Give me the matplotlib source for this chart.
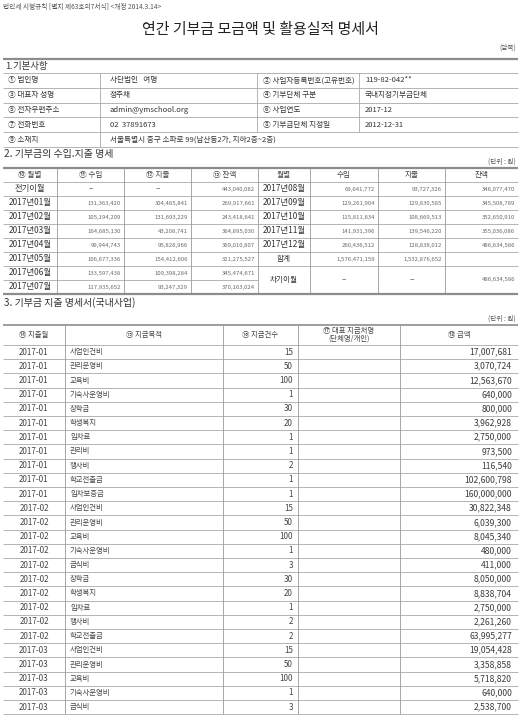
import matplotlib
matplotlib.use("Agg")
import matplotlib.pyplot as plt

plt.rcParams["font.family"] = ["Noto Sans CJK KR", "DejaVu Sans"]

# ---- data -------------------------------------------------------------
form_note = "법인세 시행규칙 [별지 제63호의7서식] <개정 2014.3.14>"
title = "연간 기부금 모금액 및 활용실적 명세서"

basic_labels_l = ["① 법인명", "③ 대표자 성명", "⑤ 전자우편주소", "⑦ 전화번호", "⑨ 소재지"]
basic_values_l = ["사단법인   여명", "정주채", "admin@ymschool.org", "02  37891673",
                  "서울특별시 중구 소파로 99(남산동2가, 지하2층~2층)"]
basic_labels_r = ["② 사업자등록번호(고유번호)", "④ 기부단체 구분", "⑥ 사업연도", "⑧ 기부금단체 지정일"]
basic_values_r = ["119-82-042**", "국내지정기부금단체", "2017-12", "2012-12-31"]

flow_header_l = ["⑩ 월별", "⑪ 수입", "⑫ 지출", "⑬ 잔액"]
flow_header_r = ["월별", "수입", "지출", "잔액"]

months_l = ["전기이월", "2017년01월", "2017년02월", "2017년03월", "2017년04월",
            "2017년05월", "2017년06월", "2017년07월"]
income_l = [None, 131363420, 105194209, 164685130, 99944743, 106677336, 133597438, 117935652]
expense_l = [None, 304485841, 131693229, 43208741, 95828966, 154412606, 109398284, 93247329]
balance_l = [443040082, 269917661, 243418641, 364895030, 369010807, 321275527, 345474671, 370163024]

months_r = ["2017년08월", "2017년09월", "2017년10월", "2017년11월", "2017년12월", "합계", "차기이월"]
income_r = [69641772, 129261904, 115811634, 141931396, 260436512, 1576471159, None]
expense_r = [93727326, 129830585, 108669513, 139546220, 128838012, 1532876652, None]
balance_r = [346077470, 345508789, 352650910, 355036086, 486634586, None, 486634586]

spend_header = ["⑭ 지출월", "⑮ 지급목적", "⑯ 지급건수", "⑰ 대표 지급처명\n(단체명/개인)", "⑱ 금액"]
spend_month = ["2017-01"] * 11 + ["2017-02"] * 10 + ["2017-03"] * 5
spend_purpose = ["사업인건비", "관리운영비", "교육비", "기숙사운영비", "장학금", "학생복지",
                 "임차료", "관리비", "행사비", "학교전출금", "임차보증금",
                 "사업인건비", "관리운영비", "교육비", "기숙사운영비", "급식비", "장학금",
                 "학생복지", "임차료", "행사비", "학교전출금",
                 "사업인건비", "관리운영비", "교육비", "기숙사운영비", "급식비"]
spend_count = [15, 50, 100, 1, 30, 20, 1, 1, 2, 1, 1,
               15, 50, 100, 1, 3, 30, 20, 1, 2, 2,
               15, 50, 100, 1, 3]
spend_amount = [17007681, 3070724, 12563670, 640000, 800000, 3962928,
                2750000, 973500, 116540, 102600798, 160000000,
                30822348, 6039300, 8045340, 480000, 411000, 8050000,
                8838704, 2750000, 2261260, 63995277,
                19054428, 3358858, 5718820, 640000, 2538700]

# ---- drawing ----------------------------------------------------------
W, H = 521, 717
fig = plt.figure(figsize=(W / 100, H / 100), dpi=100)
ax = fig.add_axes([0, 0, 1, 1])
ax.set_xlim(0, W)
ax.set_ylim(H, 0)
ax.axis("off")

LINE = "#a8a8a8"
THICK = "#8c8c8c"
DARK = "#333333"
GRAY = "#6a6a6a"
L, R = 3, 518


def hline(y, x0=L, x1=R, lw=0.6, color=LINE):
    ax.plot([x0, x1], [y, y], color=color, lw=lw, solid_capstyle="butt")


def vline(x, y0, y1, lw=0.6, color=LINE):
    ax.plot([x, x], [y0, y1], color=color, lw=lw, solid_capstyle="butt")


def txt(x, y, s, size=5.5, ha="left", color=DARK, **kw):
    ax.text(x, y, s, fontsize=size, ha=ha, va="center", color=color, **kw)


def fmt(v):
    return "–" if v is None else f"{v:,}"


# header
txt(3, 7, form_note, size=4.8, color="#555555")
txt(W / 2, 30, title, size=10.8, ha="center", color="#222222")
txt(516, 48, "(앞쪽)", size=4.8, ha="right", color="#555555")

# section 1
s1_cols = [L, 100, 257, 359, R]
s1_top, s1_hdr, s1_row = 59, 73, 14.8
hline(s1_top, lw=1.6, color=THICK)
txt(5, (s1_top + s1_hdr) / 2, "1.기본사항", size=6.8)
hline(s1_hdr)
for i, lab in enumerate(basic_labels_l):
    y0 = s1_hdr + i * s1_row
    yc = y0 + s1_row / 2
    txt(8, yc, lab, size=5.5)
    txt(110, yc, basic_values_l[i], size=5.5)
    if i < len(basic_labels_r):
        txt(263, yc, basic_labels_r[i], size=5.5)
        txt(365, yc, basic_values_r[i], size=5.5)
    hline(y0 + s1_row)
s1_bot = s1_hdr + len(basic_labels_l) * s1_row
vline(s1_cols[1], s1_hdr, s1_bot)
for x in s1_cols[2:4]:
    vline(x, s1_hdr, s1_bot - s1_row)

# section 2
txt(4, 154, "2. 기부금의 수입.지출 명세", size=7.2)
txt(516, 162, "(단위 : 원)", size=4.8, ha="right", color="#555555")
s2_cols = [L, 57, 124, 191, 258, 310, 378, 445, R]
s2_top, s2_row = 168, 14.0
s2_bot = s2_top + (len(months_l) + 1) * s2_row
hline(s2_top, lw=1.6, color=THICK)
for j, h in enumerate(flow_header_l + flow_header_r):
    txt((s2_cols[j] + s2_cols[j + 1]) / 2, s2_top + s2_row / 2, h, size=5.5, ha="center", color="#444444")
hline(s2_top + s2_row)

for i, m in enumerate(months_l):
    yc = s2_top + (i + 1.5) * s2_row
    txt((s2_cols[0] + s2_cols[1]) / 2, yc, m, size=6.0, ha="center")
    for j, v in enumerate([income_l[i], expense_l[i], balance_l[i]]):
        if v is None:
            txt((s2_cols[j + 1] + s2_cols[j + 2]) / 2, yc, "–", size=6, ha="center", color=GRAY)
        else:
            txt(s2_cols[j + 2] - 3, yc, fmt(v), size=4.3, ha="right", color=GRAY)
    if i < len(months_l) - 1:
        hline(s2_top + (i + 2) * s2_row, L, s2_cols[4])

for i, m in enumerate(months_r):
    span = 2 if i == len(months_r) - 1 else 1
    yc = s2_top + (i + 1 + span / 2) * s2_row
    if m.startswith("20"):
        txt((s2_cols[4] + s2_cols[5]) / 2, yc, m, size=6.0, ha="center")
    else:
        txt((s2_cols[4] + s2_cols[5]) / 2, yc, m, size=5.5, ha="center")
    for j, v in enumerate([income_r[i], expense_r[i], balance_r[i]]):
        if v is None:
            if i == len(months_r) - 1:
                txt((s2_cols[j + 5] + s2_cols[j + 6]) / 2, yc, "–", size=6, ha="center", color=GRAY)
        else:
            txt(s2_cols[j + 6] - 3, yc, fmt(v), size=4.3, ha="right", color=GRAY)
    if i < len(months_r) - 1:
        hline(s2_top + (i + 2) * s2_row, s2_cols[4], R)

for x in s2_cols[1:-1]:
    vline(x, s2_top, s2_bot, color="#999999")
hline(s2_bot, lw=1.6, color=THICK)

# section 3
txt(4, 303, "3. 기부금 지출 명세서(국내사업)", size=7.2)
txt(516, 319, "(단위 : 원)", size=4.8, ha="right", color="#555555")
s3_cols = [L, 65, 223, 298, 400, R]
s3_top, s3_hdr, s3_row = 325, 345, 14.2
hline(s3_top, lw=1.2, color=THICK)
for j, h in enumerate(spend_header):
    txt((s3_cols[j] + s3_cols[j + 1]) / 2, (s3_top + s3_hdr) / 2, h, size=5.3,
        ha="center", color="#444444", linespacing=0.95)
hline(s3_hdr)
for i in range(len(spend_month)):
    yc = s3_hdr + (i + 0.5) * s3_row
    txt((s3_cols[0] + s3_cols[1]) / 2, yc, spend_month[i], size=5.8, ha="center", color="#444444")
    txt(s3_cols[1] + 5, yc, spend_purpose[i], size=5.3, color="#444444")
    txt(s3_cols[3] - 5, yc, str(spend_count[i]), size=5.8, ha="right", color="#444444")
    txt(s3_cols[5] - 6, yc, fmt(spend_amount[i]), size=6.2, ha="right", color="#3c3c3c")
    hline(s3_hdr + (i + 1) * s3_row)
s3_bot = s3_hdr + len(spend_month) * s3_row
for x in s3_cols[1:-1]:
    vline(x, s3_top, s3_bot, color="#999999")

fig.savefig("out.png", dpi=100, facecolor="white")
